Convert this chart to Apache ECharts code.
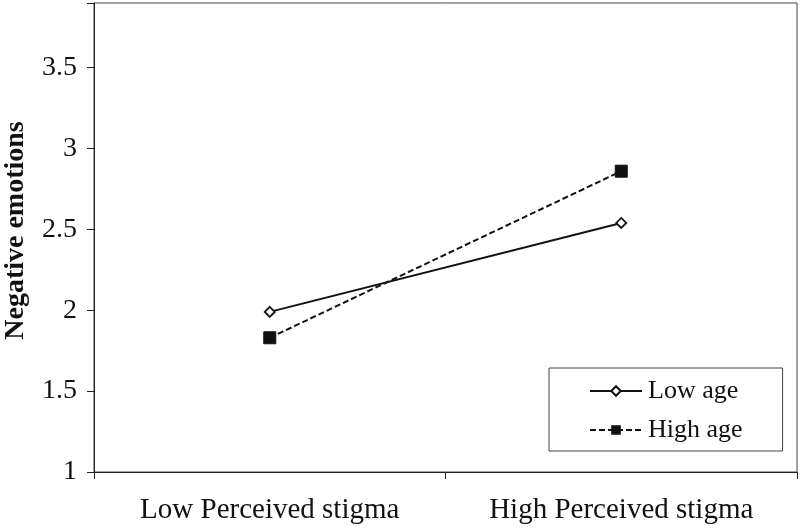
<!DOCTYPE html>
<html><head><meta charset="utf-8">
<script src="https://cdn.jsdelivr.net/npm/echarts@6/dist/echarts.min.js"></script>
<style>html,body{margin:0;padding:0;background:#fff}#c{width:800px;height:529px}</style>
</head><body><div id="c"></div>
<script>
const categories = ['Low Perceived stigma', 'High Perceived stigma'];
const lowAge = [1.99, 2.54];
const highAge = [1.83, 2.86];
const yTicks = [1, 1.5, 2, 2.5, 3, 3.5];

const chart = echarts.init(document.getElementById('c'));
const font = 'Liberation Serif';
chart.setOption({
  animation: false,
  backgroundColor: '#fff',
  textStyle: { fontFamily: font },
  grid: { left: 94, right: 3, top: 3, bottom: 57, show: true, borderColor: '#444', borderWidth: 1,
          containLabel: false, outerBoundsMode: 'none' },
  legend: {
    left: 549, top: 368, orient: 'vertical',
    itemWidth: 52, itemHeight: 12, itemGap: 13,
    padding: [10, 40, 8, 40],
    borderColor: '#444', borderWidth: 1, backgroundColor: '#fff',
    textStyle: { fontFamily: font, fontSize: 26, color: '#111', padding: [0, 0, 0, 1] },
    data: ['Low age', 'High age']
  },
  xAxis: {
    type: 'category', data: categories, boundaryGap: true,
    axisLine: { lineStyle: { color: '#222', width: 1 } },
    axisTick: { show: true, length: 7, lineStyle: { color: '#222' } },
    axisLabel: { fontFamily: font, fontSize: 29, color: '#111', margin: 24 }
  },
  yAxis: {
    type: 'value', min: 1, max: 3.9, interval: 0.5,
    name: 'Negative emotions', nameLocation: 'middle', nameGap: 64, nameRotate: 90,
    nameTextStyle: { fontFamily: font, fontSize: 28, fontWeight: 'bold', color: '#111',
                     padding: [0, 0, 0, 14] },
    splitLine: { show: false },
    axisLine: { show: true, lineStyle: { color: '#222', width: 1 } },
    axisTick: { show: true, length: 7, lineStyle: { color: '#222' } },
    axisLabel: { fontFamily: font, fontSize: 28, color: '#111', margin: 17,
      formatter: v => yTicks.includes(v) ? String(v) : '' }
  },
  series: [
    { name: 'Low age', type: 'line', data: lowAge, symbol: 'diamond', symbolSize: 10,
      itemStyle: { color: '#fff', borderColor: '#111', borderWidth: 1.8 },
      lineStyle: { color: '#111', width: 2, type: 'solid' } },
    { name: 'High age', type: 'line', data: highAge, symbol: 'rect', symbolSize: 12,
      itemStyle: { color: '#111', borderColor: '#111' },
      lineStyle: { color: '#111', width: 2, type: [6, 3] } }
  ]
});
</script></body></html>
